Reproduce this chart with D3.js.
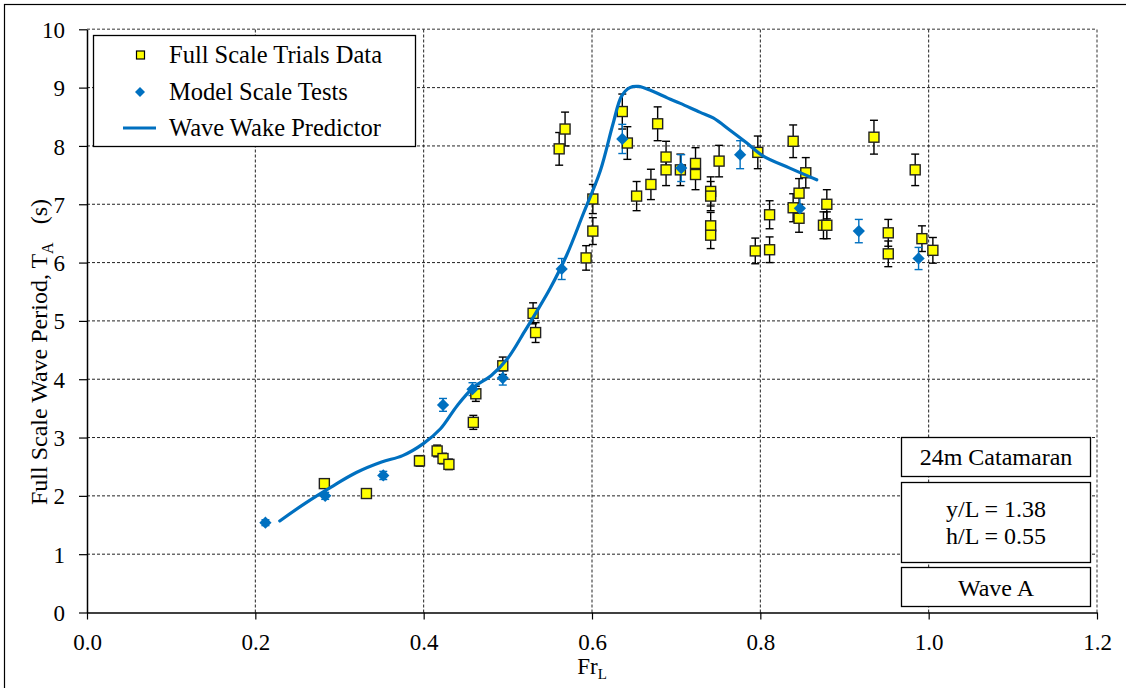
<!DOCTYPE html>
<html>
<head>
<meta charset="utf-8">
<script src="https://cdn.jsdelivr.net/npm/d3@7"></script>
<style>
  body { margin: 0; background: #fff; }
</style>
</head>
<body>
<svg id="chart"></svg>
<script>
// full scale trials: [Fr, T, error]
var fullScale = [
  [0.282, 2.21, 0.08], [0.332, 2.04, 0.07], [0.395, 2.60, 0.09], [0.416, 2.77, 0.10],
  [0.423, 2.64, 0.09], [0.430, 2.54, 0.09], [0.459, 3.26, 0.12], [0.462, 3.75, 0.13],
  [0.494, 4.23, 0.15], [0.530, 5.13, 0.18], [0.533, 4.80, 0.17], [0.561, 7.95, 0.28],
  [0.568, 8.29, 0.29], [0.593, 6.08, 0.21], [0.601, 6.54, 0.23], [0.601, 7.09, 0.25],
  [0.636, 8.59, 0.30], [0.642, 8.05, 0.28], [0.653, 7.14, 0.25], [0.670, 7.34, 0.26],
  [0.678, 8.38, 0.29], [0.688, 7.81, 0.27], [0.688, 7.59, 0.27], [0.705, 7.59, 0.27],
  [0.723, 7.70, 0.27], [0.723, 7.51, 0.26], [0.741, 7.22, 0.25], [0.741, 7.14, 0.25],
  [0.741, 6.63, 0.23], [0.741, 6.47, 0.23], [0.751, 7.74, 0.27], [0.794, 6.20, 0.22],
  [0.797, 7.89, 0.28], [0.811, 6.82, 0.24], [0.811, 6.22, 0.22], [0.839, 8.08, 0.28],
  [0.839, 6.94, 0.24], [0.846, 7.19, 0.25], [0.846, 6.76, 0.24], [0.854, 7.54, 0.26],
  [0.875, 6.64, 0.23], [0.879, 6.64, 0.23], [0.879, 7.00, 0.25], [0.935, 8.15, 0.29],
  [0.952, 6.51, 0.23], [0.952, 6.15, 0.22], [0.984, 7.59, 0.27], [0.992, 6.41, 0.22],
  [1.005, 6.21, 0.22]
];

// model scale tests: [Fr, T, error]
var modelScale = [
  [0.212, 1.54, 0.05], [0.283, 2.00, 0.06], [0.352, 2.35, 0.07], [0.423, 3.56, 0.11],
  [0.458, 3.83, 0.11], [0.494, 4.02, 0.12], [0.564, 5.89, 0.18], [0.636, 8.12, 0.25],
  [0.706, 7.62, 0.23], [0.776, 7.85, 0.24], [0.847, 6.93, 0.21], [0.917, 6.54, 0.20],
  [0.988, 6.07, 0.19]
];

// wave wake predictor curve: [Fr, T]
var predictor = [
  [0.229, 1.57], [0.26, 1.88], [0.29, 2.15], [0.32, 2.40], [0.35, 2.58], [0.375, 2.69],
  [0.40, 2.90], [0.42, 3.15], [0.44, 3.55], [0.46, 3.87], [0.48, 4.06], [0.50, 4.36],
  [0.52, 4.82], [0.533, 5.13], [0.55, 5.55], [0.57, 6.13], [0.59, 6.85], [0.61, 7.58],
  [0.625, 8.38], [0.635, 8.85], [0.645, 9.0], [0.655, 9.02], [0.67, 8.95], [0.69, 8.82],
  [0.705, 8.73], [0.728, 8.58], [0.744, 8.48], [0.764, 8.27], [0.784, 8.05], [0.803, 7.83],
  [0.835, 7.62], [0.867, 7.42]
];

var xTicks = [0, 0.2, 0.4, 0.6, 0.8, 1.0, 1.2];
var yTicks = [0, 1, 2, 3, 4, 5, 6, 7, 8, 9, 10];
var legendLabels = ["Full Scale Trials Data", "Model Scale Tests", "Wave Wake Predictor"];
var noteLines = [["24m Catamaran"], ["y/L = 1.38", "h/L = 0.55"], ["Wave A"]];

var W = 1126, H = 688;
var blue = "#0070C0", yellow = "#FFFF00";
var serif = "'Liberation Serif', 'Times New Roman', serif";

var svg = d3.select("#chart").attr("width", W).attr("height", H)
  .style("font-family", serif);

// outer frame
svg.append("rect")
  .attr("x", 4.5).attr("y", 4.5)
  .attr("width", W + 10).attr("height", H + 10)
  .attr("fill", "none").attr("stroke", "#000").attr("stroke-width", 1.2);

var x = d3.scaleLinear().domain([0, 1.2]).range([87, 1097]);
var y = d3.scaleLinear().domain([0, 10]).range([612.5, 29.3]);

// grid
svg.append("g").selectAll("line")
  .data(yTicks.filter(function(d) { return d > 0; }))
  .join("line")
  .attr("x1", x(0)).attr("x2", x(1.2))
  .attr("y1", function(d) { return y(d); }).attr("y2", function(d) { return y(d); })
  .attr("stroke", function(d) { return d == 10 ? "#777" : "#222"; })
  .attr("stroke-width", function(d) { return d == 10 ? 1.5 : 1; })
  .attr("stroke-dasharray", "3,2");

svg.append("g").selectAll("line")
  .data(xTicks.filter(function(d) { return d > 0; }))
  .join("line")
  .attr("y1", y(0)).attr("y2", y(10))
  .attr("x1", function(d) { return x(d); }).attr("x2", function(d) { return x(d); })
  .attr("stroke", function(d) { return d == 1.2 ? "#777" : "#222"; })
  .attr("stroke-width", function(d) { return d == 1.2 ? 1.5 : 1; })
  .attr("stroke-dasharray", "3,2");

// axes
var xAxis = d3.axisBottom(x).tickValues(xTicks).tickFormat(d3.format(".1f")).tickSize(7).tickSizeOuter(0);
var gx = svg.append("g").attr("transform", "translate(0," + y(0) + ")").call(xAxis)
  .attr("font-family", null);
gx.select(".domain").attr("stroke", "#000").attr("stroke-width", 1.5);
gx.selectAll(".tick line").attr("stroke", "#000").attr("stroke-width", 1.2);
gx.selectAll(".tick text").attr("font-size", 23).attr("y", 21).attr("dy", "0.71em")
  .style("font-family", serif);

var yAxis = d3.axisLeft(y).tickValues(yTicks).tickSize(8).tickSizeOuter(0);
var gy = svg.append("g").attr("transform", "translate(" + x(0) + ",0)").call(yAxis)
  .attr("font-family", null);
gy.select(".domain").attr("stroke", "#000").attr("stroke-width", 1.5);
gy.selectAll(".tick line").attr("stroke", "#000").attr("stroke-width", 1.2);
gy.selectAll(".tick text").attr("font-size", 23).attr("x", -22).attr("dy", "0.35em")
  .style("font-family", serif);

// axis titles
var xt = svg.append("text").attr("x", x(0.6)).attr("y", 674).attr("text-anchor", "middle")
  .attr("font-size", 23).style("font-family", serif);
xt.append("tspan").text("Fr");
xt.append("tspan").attr("font-size", 15).attr("dy", 5).text("L");

var yt = svg.append("text").attr("transform", "translate(47,352) rotate(-90)")
  .attr("text-anchor", "middle").attr("font-size", 24).style("font-family", serif);
yt.append("tspan").text("Full Scale Wave Period, T");
yt.append("tspan").attr("font-size", 16).attr("dy", 6).text("A");
yt.append("tspan").attr("dy", -6).attr("xml:space", "preserve").text("   (s)");

// error bars
function errorBars(data, color) {
  var g = svg.append("g").attr("stroke", color).attr("stroke-width", 1.4);
  data.forEach(function(d) {
    var cx = x(d[0]), top = y(d[1] + d[2]), bot = y(d[1] - d[2]);
    g.append("line").attr("x1", cx).attr("x2", cx).attr("y1", top).attr("y2", bot);
    g.append("line").attr("x1", cx - 4).attr("x2", cx + 4).attr("y1", top).attr("y2", top);
    g.append("line").attr("x1", cx - 4).attr("x2", cx + 4).attr("y1", bot).attr("y2", bot);
  });
}
errorBars(fullScale, "#000");
errorBars(modelScale, blue);

// full scale squares
svg.append("g").selectAll("rect")
  .data(fullScale)
  .join("rect")
  .attr("x", function(d) { return x(d[0]) - 5; })
  .attr("y", function(d) { return y(d[1]) - 5; })
  .attr("width", 10).attr("height", 10)
  .attr("fill", yellow).attr("stroke", "#222").attr("stroke-width", 1.4);

// model diamonds
var diamond = d3.symbol().type(d3.symbolSquare).size(75);
svg.append("g").selectAll("path")
  .data(modelScale)
  .join("path")
  .attr("d", diamond)
  .attr("transform", function(d) { return "translate(" + x(d[0]) + "," + y(d[1]) + ") rotate(45)"; })
  .attr("fill", blue);

// predictor line
var line = d3.line()
  .x(function(d) { return x(d[0]); })
  .y(function(d) { return y(d[1]); })
  .curve(d3.curveCatmullRom.alpha(0.5));
svg.append("path")
  .attr("d", line(predictor))
  .attr("fill", "none").attr("stroke", blue).attr("stroke-width", 3.2)
  .attr("stroke-linecap", "round");

// legend
var lg = svg.append("g");
lg.append("rect").attr("x", 93.5).attr("y", 35.5).attr("width", 322).attr("height", 111)
  .attr("fill", "#fff").attr("stroke", "#000").attr("stroke-width", 1.3);
var rowY = [55, 92, 128];
lg.append("rect").attr("x", 136.5).attr("y", rowY[0] - 4).attr("width", 8).attr("height", 8)
  .attr("fill", yellow).attr("stroke", "#000").attr("stroke-width", 1.2);
lg.append("path").attr("d", d3.symbol().type(d3.symbolSquare).size(50))
  .attr("transform", "translate(140," + rowY[1] + ") rotate(45)").attr("fill", blue);
lg.append("line").attr("x1", 123).attr("x2", 156).attr("y1", rowY[2]).attr("y2", rowY[2])
  .attr("stroke", blue).attr("stroke-width", 3.2);
lg.selectAll("text").data(legendLabels).join("text")
  .attr("x", 169).attr("y", function(d, i) { return rowY[i] + 8; })
  .attr("font-size", 24.5).style("font-family", serif)
  .text(function(d) { return d; });

// note boxes
var boxes = [
  { y: 437, h: 39, base: [465] },
  { y: 482, h: 80, base: [517, 544] },
  { y: 567, h: 39, base: [596] }
];
boxes.forEach(function(b, i) {
  svg.append("rect").attr("x", 901.5).attr("y", b.y + 0.5).attr("width", 189).attr("height", b.h)
    .attr("fill", "#fff").attr("stroke", "#000").attr("stroke-width", 1.3);
  noteLines[i].forEach(function(t, j) {
    svg.append("text").attr("x", 996).attr("text-anchor", "middle").attr("font-size", 24)
      .style("font-family", serif)
      .attr("y", b.base[j]).text(t);
  });
});
</script>
</body>
</html>
